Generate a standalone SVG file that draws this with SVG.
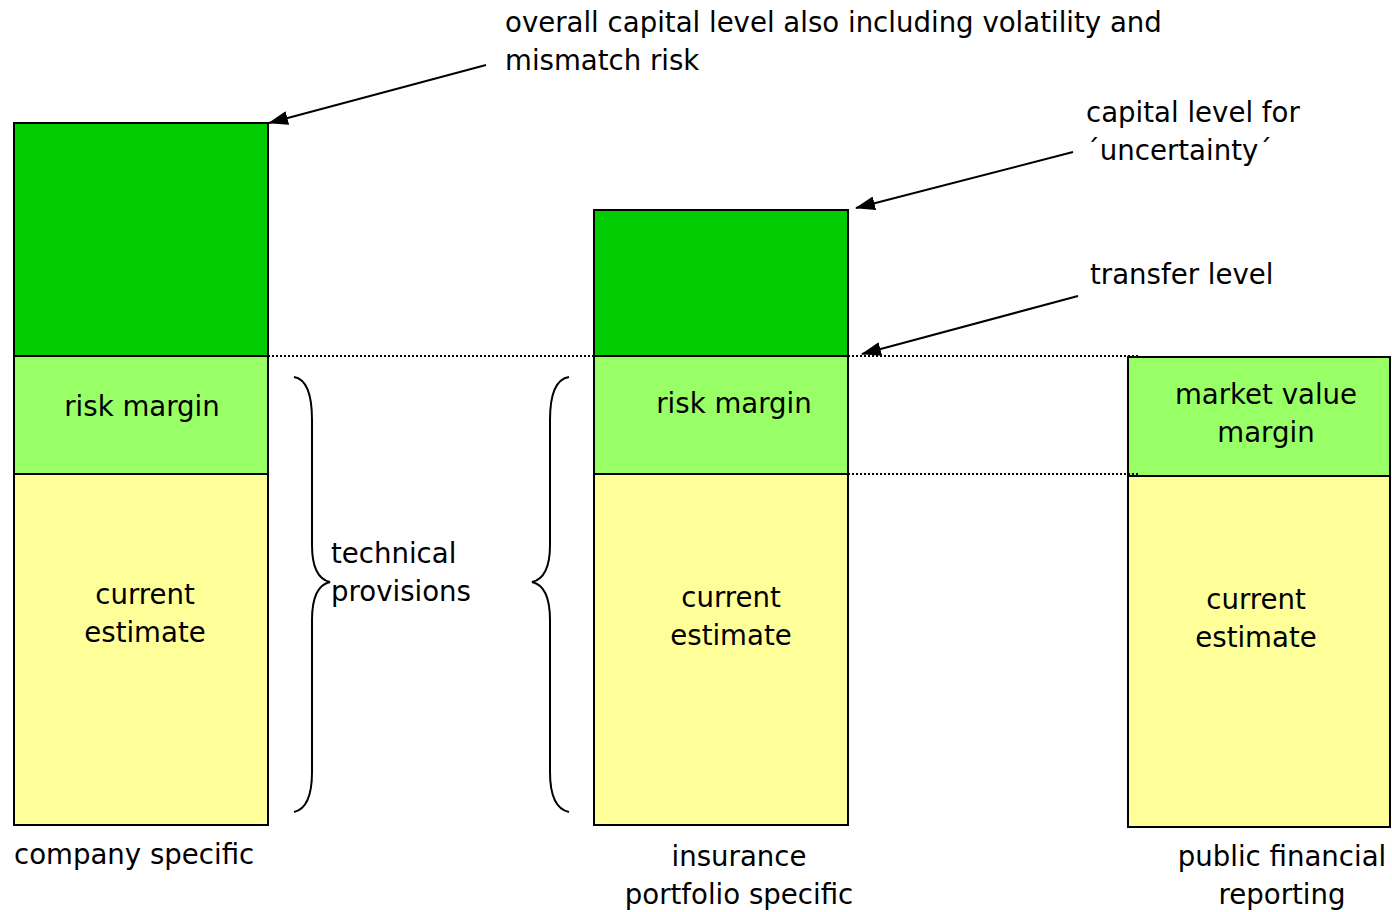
<svg xmlns="http://www.w3.org/2000/svg" width="1392" height="912" viewBox="0 0 1392 912">
  <style>
    text { font-family: "DejaVu Sans", Verdana, sans-serif; font-size: 27.6px; fill: #000; }
    .mid { text-anchor: middle; }
    .cap { fill: #00CC00; stroke: #000; stroke-width: 2; }
    .margin { fill: #99FF66; stroke: #000; stroke-width: 2; }
    .est { fill: #FFFF99; stroke: #000; stroke-width: 2; }
    .dot { stroke: #000; stroke-width: 2; stroke-dasharray: 2 2; fill: none; }
    .arrow { stroke: #000; stroke-width: 2; fill: none; marker-end: url(#head); }
    .brace { stroke: #000; stroke-width: 2; fill: none; }
  </style>
  <defs>
    <marker id="head" viewBox="0 0 20 14" refX="19" refY="7" markerWidth="20" markerHeight="14" markerUnits="userSpaceOnUse" orient="auto">
      <path d="M0,0 L20,7 L0,14 z" fill="#000"/>
    </marker>
  </defs>

  <rect width="1392" height="912" fill="#fff"/>

  <!-- company specific stack -->
  <g id="company-stack">
    <rect class="cap" x="14" y="123" width="254" height="233"/>
    <rect class="margin" x="14" y="356" width="254" height="118"/>
    <rect class="est" x="14" y="474" width="254" height="351"/>
    <text class="mid" x="142" y="416">risk margin</text>
    <text class="mid" x="145" y="604">current</text>
    <text class="mid" x="145" y="642">estimate</text>
    <text x="14" y="864">company specific</text>
  </g>

  <!-- insurance portfolio specific stack -->
  <g id="portfolio-stack">
    <rect class="cap" x="594" y="210" width="254" height="146"/>
    <rect class="margin" x="594" y="356" width="254" height="118"/>
    <rect class="est" x="594" y="474" width="254" height="351"/>
    <text class="mid" x="734" y="413">risk margin</text>
    <text class="mid" x="731" y="607">current</text>
    <text class="mid" x="731" y="645">estimate</text>
    <text class="mid" x="739" y="866">insurance</text>
    <text class="mid" x="739" y="904">portfolio specific</text>
  </g>

  <!-- public financial reporting stack -->
  <g id="reporting-stack">
    <rect class="margin" x="1128" y="357" width="262" height="119"/>
    <rect class="est" x="1128" y="476" width="262" height="351"/>
    <text class="mid" x="1266" y="404">market value</text>
    <text class="mid" x="1266" y="442">margin</text>
    <text class="mid" x="1256" y="609">current</text>
    <text class="mid" x="1256" y="647">estimate</text>
    <text class="mid" x="1282" y="866">public financial</text>
    <text class="mid" x="1282" y="904">reporting</text>
  </g>

  <!-- technical provisions braces -->
  <g id="technical-provisions">
    <path class="brace" d="M294,377 Q312,380 312,420 L312,545 Q312,578 330,582 Q312,586 312,620 L312,772 Q312,808 294,812"/>
    <path class="brace" d="M569,377 Q550,380 550,420 L550,545 Q550,578 532,582 Q550,586 550,620 L550,772 Q550,808 569,812"/>
    <text x="331" y="563">technical</text>
    <text x="331" y="601">provisions</text>
  </g>

  <!-- annotation labels -->
  <g id="labels">
    <text x="505" y="32">overall capital level also including volatility and</text>
    <text x="505" y="70">mismatch risk</text>
    <text x="1086" y="122">capital level for</text>
    <text x="1086" y="160">´uncertainty´</text>
    <text x="1090" y="284">transfer level</text>
  </g>

  <!-- level lines and pointer arrows -->
  <g id="connectors">
    <line class="dot" x1="268" y1="356" x2="594" y2="356"/>
    <line class="dot" x1="848" y1="356" x2="1138" y2="356"/>
    <line class="dot" x1="848" y1="474" x2="1138" y2="474"/>
    <line class="arrow" x1="486" y1="65" x2="269" y2="123"/>
    <line class="arrow" x1="1073" y1="152" x2="856" y2="208"/>
    <line class="arrow" x1="1078" y1="296" x2="862" y2="354"/>
  </g>
</svg>
